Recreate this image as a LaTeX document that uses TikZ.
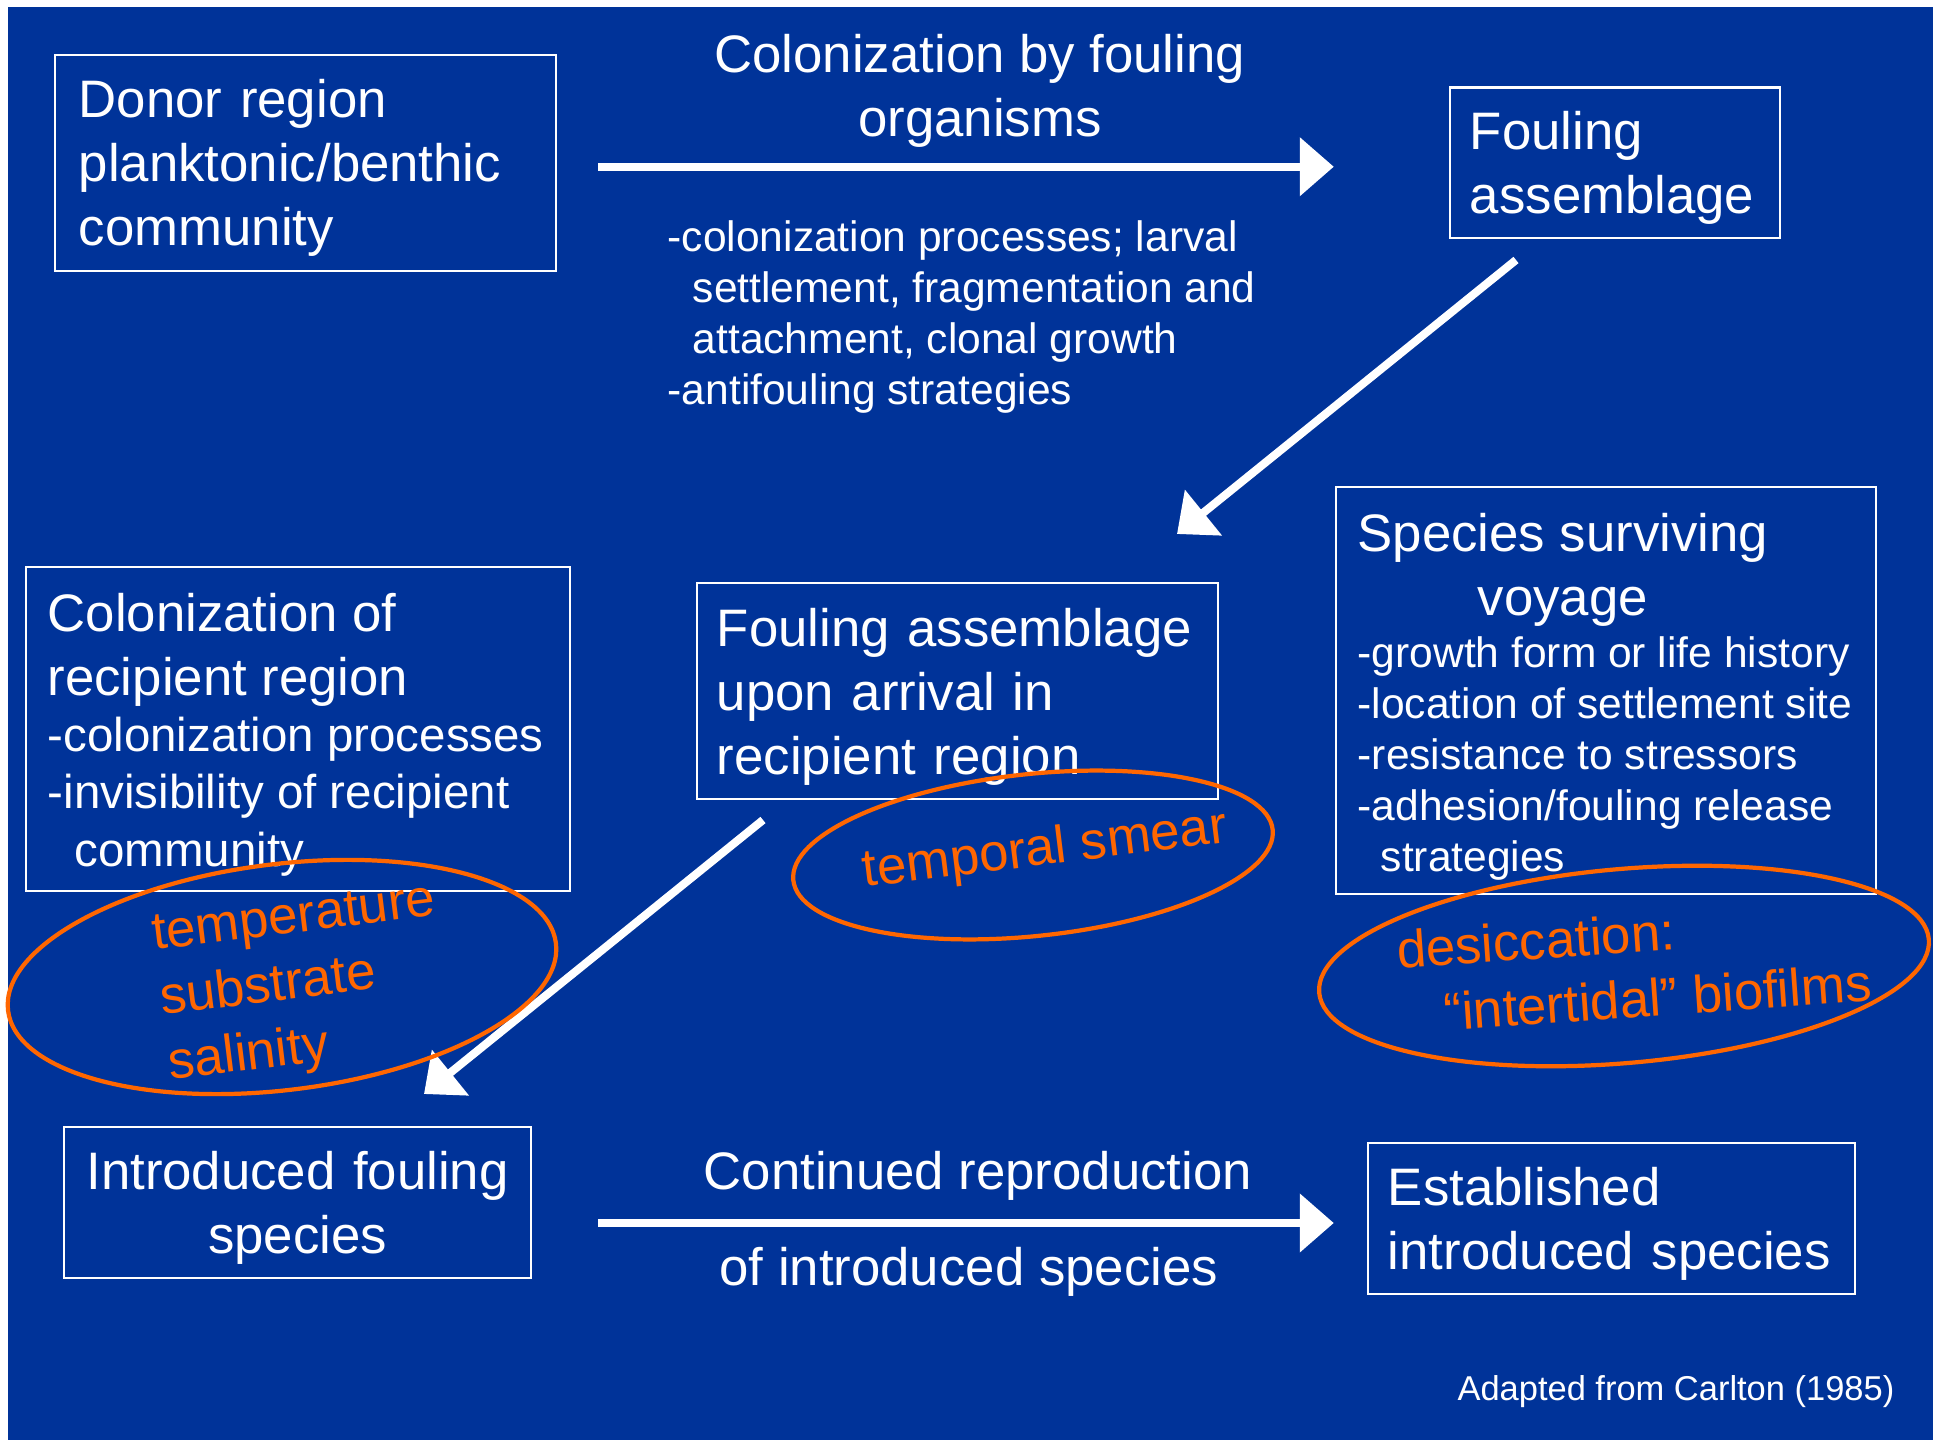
\documentclass[tikz,border=0pt]{standalone}
\usepackage{fontspec}
\setmainfont{Liberation Sans}
\usetikzlibrary{arrows.meta}

\definecolor{slideblue}{RGB}{0,51,153}
\definecolor{penorange}{RGB}{255,102,0}
\newcommand{\headsize}{\fontsize{15}{18.2}\selectfont}
\newcommand{\listsize}{\fontsize{12.1}{14.5}\selectfont}
\newcommand{\midsize}{\fontsize{13.5}{16.4}\selectfont}
\newcommand{\notesize}{\fontsize{15}{18.6}\selectfont}

\begin{document}
\begin{tikzpicture}[x=0.01cm, y=-0.01cm, >={Triangle[length=0.34cm, width=0.57cm]}]
        \tikzset{%
         region/.style={
            draw=white,
            line width=0.6pt,
            text=white,
            inner xsep=0.2cm,
            inner ysep=0pt,
            align=left,
            text depth=18.2pt,
            font=\headsize},
        boxtext/.style={text=white, inner sep=0pt, align=left, anchor=north west},
        flow/.style={->, draw=white, line width=2.3pt},
        ring/.style={draw=penorange, line width=1.2pt},
        note/.style={text=penorange, font=\notesize, inner sep=0pt, align=left},
        caption/.style={text=white, font=\headsize, inner sep=0pt, align=center},
        }

        \useasboundingbox (0,0) rectangle (1933,1440);
        \fill[white] (0,0) rectangle (1933,1440);
        \fill[slideblue] (8,7) rectangle (1933,1440);

        \node [region, minimum width=5.005cm, minimum height=2.155cm, inner xsep=0.235cm, text width=4.535cm, text depth=36.4pt] (donor) at (305.75,162.75)
            {Donor region\\planktonic/benthic\\community};
        \node [region, minimum width=3.3cm, minimum height=1.505cm, text width=2.9cm] (fouling) at (1615,162.75)
            {Fouling\\assemblage};
        \node [region, minimum width=5.21cm, minimum height=2.16cm, text width=4.81cm, text depth=36.4pt] (arrival) at (957.5,691)
            {Fouling assemblage\\upon arrival in\\recipient region};
        \node [region, minimum width=4.67cm, minimum height=1.51cm, text width=4.27cm, align=center] (introduced) at (297.5,1202.5)
            {Introduced fouling\\species};
        \node [region, minimum width=4.87cm, minimum height=1.51cm, text width=4.47cm] (established) at (1611.5,1218.5)
            {Established\\introduced species};

        \node [region, minimum width=5.4cm, minimum height=4.07cm] (surviving) at (1606,690.5) {};
        \node [boxtext, font=\headsize] (surviving-head) at (1357,512.5)
            {Species surviving\\\hspace*{1.2cm}voyage};
        \node [boxtext, font=\listsize] (surviving-list) at (1357,636)
            {-growth form or life history\\-location of settlement site\\-resistance to stressors\\-adhesion/fouling release\\\hspace*{0.23cm}strategies};

        \node [region, minimum width=5.44cm, minimum height=3.24cm] (recipient) at (298,729) {};
        \node [boxtext, font=\headsize] (recipient-head) at (47,592.5)
            {Colonization of\\recipient region};
        \node [boxtext, font=\midsize] (recipient-list) at (47,716)
            {-colonization processes\\-invisibility of recipient\\\hspace*{0.27cm}community};

        \path ([yshift=-0.045cm]established.west) coordinate (repro-end);
        \draw [flow, shorten <=0.41cm, shorten >=1.15cm] ([yshift=-0.04cm]donor.east) -- ([yshift=-0.04cm]fouling.west)
            node [caption, above=0.155cm, pos=0.474] (colonization) {Colonization by fouling\\organisms};
        \draw [flow, shorten <=0.66cm, shorten >=0.33cm] (introduced.east |- repro-end) -- (repro-end)
            node [caption, above=0.185cm, pos=0.534] (reproduction) {Continued reproduction}
            node [caption, below=0.205cm, pos=0.523] (offspring) {of introduced species};

        \node [boxtext, font=\listsize] (processes) at (667,220)
            {-colonization processes; larval\\\hspace*{0.25cm}settlement, fragmentation and\\\hspace*{0.25cm}attachment, clonal growth\\-antifouling strategies};

        \coordinate (voyage-from) at (1516,260);
        \coordinate (voyage-to) at (1177,534);
        \coordinate (settle-from) at (763,820);
        \coordinate (settle-to) at (424,1094);
        \foreach \s in {voyage,settle}
            \draw [flow] (\s-from) -- (\s-to);

        \foreach \cx/\cy/\rx/\ry/\a in {282/977/276/113/7, 1033/855/241/81/6, 1624/966/306/97/5}
            \draw [ring, rotate around={\a:(\cx,\cy)}] (\cx,\cy) ellipse [x radius=\rx, y radius=\ry];

        \node [note, rotate=7] (conditions) at (302,986) {temperature\\substrate\\salinity};
        \node [note, rotate=7] (smear) at (1045,851) {temporal smear};
        \node [note, rotate=4] (drying) at (1634,966) {desiccation:\\\hspace*{0.43cm}“intertidal” biofilms};

        \node [anchor=base east, text=white, font=\fontsize{9.8}{12}\selectfont, inner sep=0pt] (credit) at (1895,1400)
            {Adapted from Carlton (1985)};
    \end{tikzpicture}
\end{document}
